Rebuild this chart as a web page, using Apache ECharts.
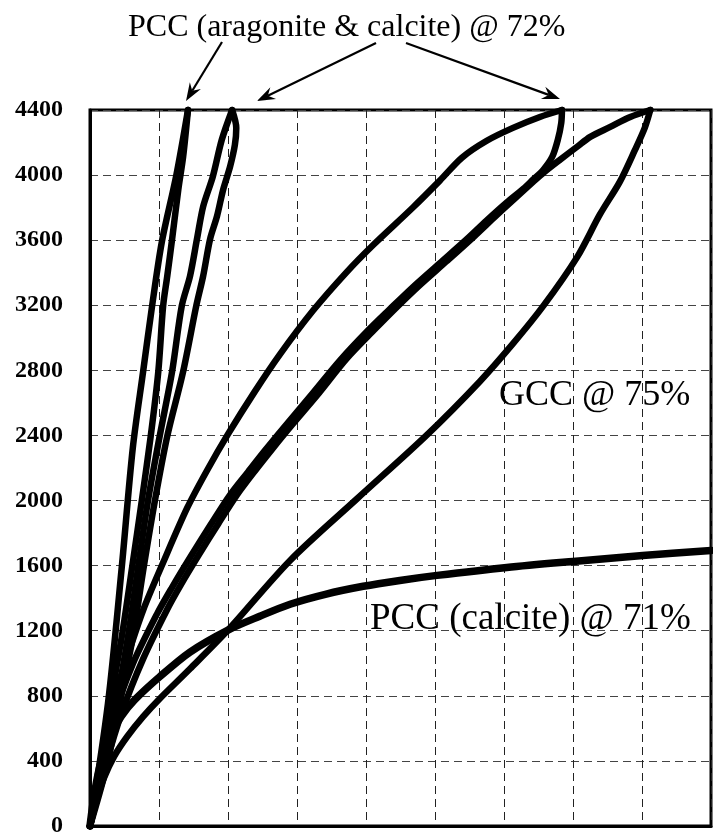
<!DOCTYPE html>
<html>
<head>
<meta charset="utf-8">
<script src="https://cdn.jsdelivr.net/npm/echarts@6/dist/echarts.min.js"></script>
<style>
  html, body { margin: 0; padding: 0; background: #fff; }
  #chart { width: 713px; height: 838px; }
</style>
</head>
<body>
<div id="chart"></div>
<script>
// Axis ranges
const xRange = [0, 9];
const yRange = [0, 4400];
const yStep = 400;

// PCC (aragonite & calcite) @ 72% — first (narrow) loop
const pccLoop1Up = [[0,0],[0.26,752],[0.46,1589],[0.62,2322],[0.77,2793],[0.90,3196],[1.04,3587],[1.25,3997],[1.42,4400]];
const pccLoop1Down = [[1.42,4400],[1.35,4113],[1.28,3911],[1.19,3606],[1.12,3380],[1.06,3196],[0.99,2793],[0.88,2396],[0.75,1998],[0.61,1589],[0.46,1161],[0.29,752],[0.145,348],[0,0]];

// PCC (aragonite & calcite) @ 72% — second loop
const pccLoop2Up = [[0,0],[0.23,348],[0.43,752],[0.62,1161],[0.78,1595],[0.94,1998],[1.12,2396],[1.35,2793],[1.54,3196],[1.64,3380],[1.74,3606],[1.84,3746],[1.93,3911],[2.03,4052],[2.10,4186],[2.12,4290],[2.06,4400]];
const pccLoop2Down = [[2.06,4400],[1.91,4217],[1.78,3991],[1.64,3807],[1.55,3606],[1.45,3380],[1.33,3196],[1.19,2793],[1.01,2396],[0.84,1998],[0.70,1595],[0.55,1161],[0.38,752],[0.19,348],[0,0]];

// PCC (aragonite & calcite) @ 72% — third loop
const pccLoop3Up = [[0,0],[0.16,367],[0.33,752],[0.54,1039],[0.77,1326],[1.06,1619],[1.41,1956],[1.70,2188],[2.00,2408],[2.39,2671],[2.75,2897],[3.23,3166],[3.72,3404],[4.10,3569],[4.68,3801],[5.07,3966],[5.39,4107],[5.75,4211],[6.13,4290],[6.52,4357],[6.84,4400]];
const pccLoop3Down = [[6.84,4400],[6.83,4321],[6.78,4217],[6.70,4113],[6.57,4033],[6.42,3972],[6.30,3923],[6.04,3832],[5.75,3722],[5.46,3606],[5.07,3459],[4.68,3312],[4.35,3178],[4.01,3037],[3.62,2860],[3.19,2640],[2.80,2444],[2.54,2310],[2.29,2176],[2.03,2035],[1.74,1846],[1.45,1650],[1.19,1467],[0.97,1302],[0.62,996],[0.33,654],[0.145,348],[0,0]];

// GCC @ 75% loop
const gccUp = [[0,0],[0.09,153],[0.20,293],[0.35,428],[0.54,550],[0.77,672],[1.01,782],[1.45,966],[2.00,1204],[2.90,1632],[3.87,2011],[4.88,2402],[5.65,2732],[6.13,2964],[6.57,3196],[7.06,3496],[7.39,3758],[7.68,3960],[7.90,4156],[8.04,4290],[8.12,4400]];
const gccDown = [[8.12,4400],[7.83,4357],[7.54,4296],[7.25,4235],[7.06,4174],[6.81,4094],[6.59,4021],[6.41,3954],[6.14,3850],[5.86,3740],[5.57,3624],[5.17,3471],[4.78,3324],[4.45,3190],[4.12,3049],[3.72,2872],[3.29,2646],[2.90,2451],[2.64,2316],[2.39,2182],[2.13,2035],[1.86,1858],[1.58,1668],[1.32,1485],[1.12,1332],[0.77,1027],[0.46,697],[0.23,379],[0,0]];

// PCC (calcite) @ 71%
const pccCalcite = [[0,0],[0.07,214],[0.16,397],[0.29,550],[0.45,672],[0.65,776],[1.01,917],[1.45,1069],[2.00,1204],[2.46,1289],[2.90,1363],[3.41,1424],[3.96,1473],[4.49,1509],[5.03,1540],[6.04,1589],[7.00,1626],[8.01,1662],[9.00,1693]];

// Text labels
const titleText = 'PCC (aragonite & calcite) @ 72%';
const gccText = 'GCC @ 75%';
const calciteText = 'PCC (calcite) @ 71%';

const serif = "'Liberation Serif', 'Times New Roman', serif";

function curve(data, width) {
  return {
    type: 'line',
    data: data,
    showSymbol: false,
    smooth: 0.3,
    clip: false,
    silent: true,
    lineStyle: { color: '#000', width: width, cap: 'round', join: 'round' }
  };
}

// Arrow made of a shaft and a notched head
function arrow(x1, y1, x2, y2) {
  const ang = Math.atan2(y2 - y1, x2 - x1);
  const len = 18, half = 6.5, notch = 12;
  const ca = Math.cos(ang), sa = Math.sin(ang);
  const bx = x2 - len * ca, by = y2 - len * sa;
  const nx = x2 - notch * ca, ny = y2 - notch * sa;
  return [
    { type: 'line', shape: { x1: x1, y1: y1, x2: nx, y2: ny },
      style: { stroke: '#000', lineWidth: 2.2 }, z: 100 },
    { type: 'polygon',
      shape: { points: [[x2, y2], [bx - half * sa, by + half * ca], [nx, ny], [bx + half * sa, by - half * ca]] },
      style: { fill: '#000' }, z: 100 }
  ];
}

const chart = echarts.init(document.getElementById('chart'), null, { renderer: 'canvas' });

chart.setOption({
  animation: false,
  backgroundColor: '#fff',
  grid: {
    left: 90, right: 2, top: 110, bottom: 8,
    show: true, borderColor: '#000', borderWidth: 3, backgroundColor: 'transparent'
  },
  xAxis: {
    type: 'value', min: xRange[0], max: xRange[1], interval: 1,
    axisLine: { show: true, onZero: false, lineStyle: { color: '#000', width: 3 } },
    axisTick: { show: false },
    axisLabel: { show: false },
    splitLine: { show: true, lineStyle: { color: '#222', width: 1, type: [8, 5] } }
  },
  yAxis: {
    type: 'value', min: yRange[0], max: yRange[1], interval: yStep,
    axisLine: { show: true, onZero: false, lineStyle: { color: '#000', width: 3 } },
    axisTick: { show: false },
    axisLabel: {
      color: '#000', fontFamily: serif, fontWeight: 'bold', fontSize: 24, margin: 27,
      formatter: function (v) { return String(v); }
    },
    splitLine: { show: true, lineStyle: { color: '#444', width: 1, type: [8, 5] } }
  },
  series: [
    curve(pccLoop1Up, 6.5),
    curve(pccLoop1Down, 6.5),
    curve(pccLoop2Up, 6.5),
    curve(pccLoop2Down, 6.5),
    curve(pccLoop3Up, 6.5),
    curve(pccLoop3Down, 6.5),
    curve(gccUp, 6.5),
    curve(gccDown, 6.5),
    curve(pccCalcite, 7.5)
  ],
  graphic: [
    { type: 'text', x: 128, y: 12, z: 100,
      style: { text: titleText, font: '32px ' + serif, fill: '#000' } },
    { type: 'text', x: 499, y: 378, z: 100,
      style: { text: gccText, font: '36px ' + serif, fill: '#000' } },
    { type: 'text', x: 370, y: 601, z: 100,
      style: { text: calciteText, font: '37px ' + serif, fill: '#000' } }
  ].concat(arrow(222, 42, 186, 101), arrow(376, 43, 257, 101), arrow(406, 43, 560, 99))
});
</script>
</body>
</html>
